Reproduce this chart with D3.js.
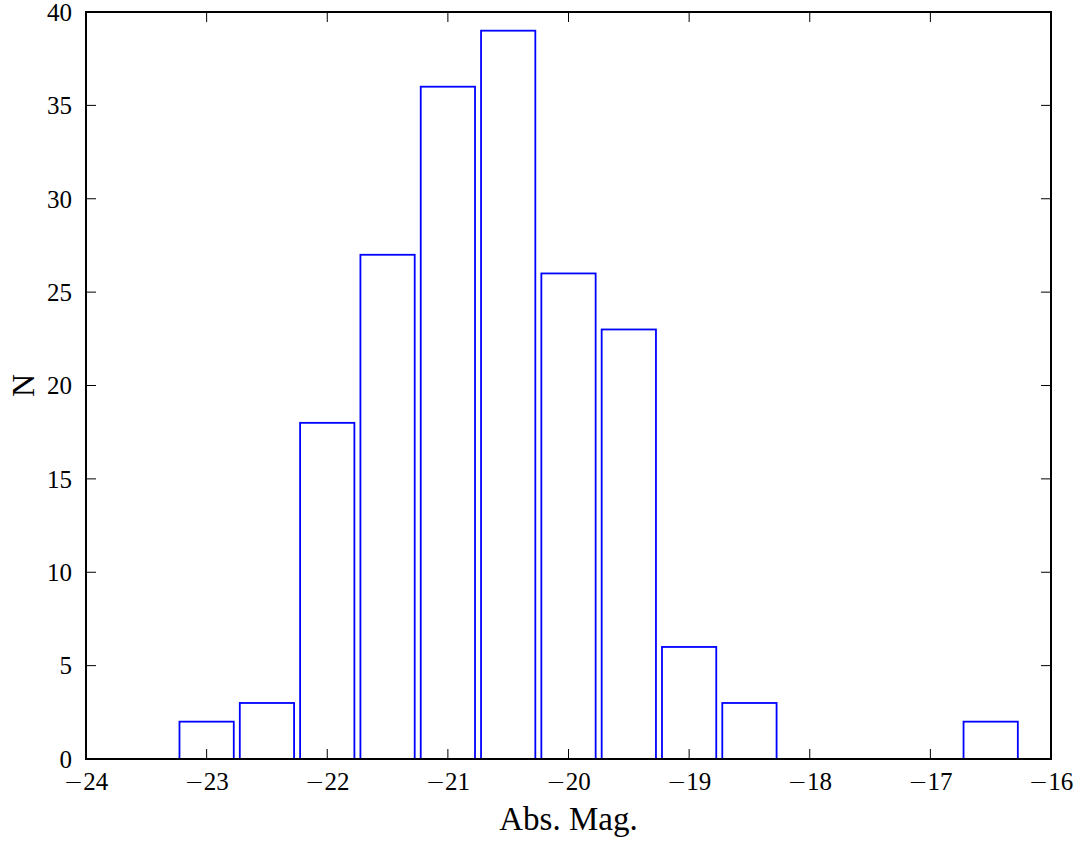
<!DOCTYPE html>
<html>
<head>
<meta charset="utf-8">
<script src="https://cdn.jsdelivr.net/npm/d3@7"></script>
<style>
  html, body { margin: 0; padding: 0; background: #fff; }
  svg { display: block; }
  text { font-family: "Liberation Serif", "DejaVu Serif", serif; fill: #000; }
</style>
</head>
<body>
<svg id="chart" width="1080" height="844"></svg>
<script>
// Data: histogram bin centers (Abs. Mag.) and counts
const binCenters = [-23.5, -23, -22.5, -22, -21.5, -21, -20.5, -20, -19.5, -19, -18.5, -18, -17.5, -17, -16.5];
const counts     = [0, 2, 3, 18, 27, 36, 39, 26, 23, 6, 3, 0, 0, 0, 2];
const binWidth = 0.5;
const barFraction = 0.9;
const xTicks = [-24, -23, -22, -21, -20, -19, -18, -17, -16];
const yTicks = [0, 5, 10, 15, 20, 25, 30, 35, 40];
const xLabel = "Abs. Mag.";
const yLabel = "N";

(function () {
const svg = d3.select("#chart");
const mL = 86, mR = 1051, mT = 12, mB = 759;

const x = d3.scaleLinear().domain([-24, -16]).range([mL, mR]);
const y = d3.scaleLinear().domain([0, 40]).range([mB, mT]);

// bars
const bars = binCenters.map((c, i) => ({ c, n: counts[i] }));
svg.append("g")
  .selectAll("rect")
  .data(bars)
  .join("rect")
  .attr("x", d => x(d.c - binWidth * barFraction / 2))
  .attr("width", d => x(d.c + binWidth * barFraction / 2) - x(d.c - binWidth * barFraction / 2))
  .attr("y", d => y(d.n))
  .attr("height", d => y(0) - y(d.n))
  .attr("fill", "#fff")
  .attr("stroke", "#0000ff")
  .attr("stroke-width", 1.8);

const tickLen = 10;
const tg = svg.append("g").attr("stroke", "#000").attr("stroke-width", 1);
xTicks.forEach(t => {
  tg.append("line").attr("x1", x(t)).attr("x2", x(t)).attr("y1", mB).attr("y2", mB - tickLen);
  tg.append("line").attr("x1", x(t)).attr("x2", x(t)).attr("y1", mT).attr("y2", mT + tickLen);
});
yTicks.forEach(t => {
  tg.append("line").attr("x1", mL).attr("x2", mL + tickLen).attr("y1", y(t)).attr("y2", y(t));
  tg.append("line").attr("x1", mR).attr("x2", mR - tickLen).attr("y1", y(t)).attr("y2", y(t));
});

// frame
svg.append("rect")
  .attr("x", mL).attr("y", mT)
  .attr("width", mR - mL).attr("height", mB - mT)
  .attr("fill", "none").attr("stroke", "#000").attr("stroke-width", 2);

// tick labels (wide minus sign like TeX)
function label(sel, d) {
  if (d < 0) {
    sel.append("tspan").attr("font-family", "DejaVu Sans").attr("font-weight", 200).attr("font-size", 23).text("\u2212");
    sel.append("tspan").text(String(Math.abs(d)));
  } else {
    sel.text(String(d));
  }
}
svg.append("g").selectAll("text").data(xTicks).join("text")
  .attr("x", d => x(d)).attr("y", mB + 31)
  .attr("text-anchor", "middle")
  .attr("font-size", 25)
  .each(function (d) { label(d3.select(this), d); });

svg.append("g").selectAll("text").data(yTicks).join("text")
  .attr("x", mL - 14).attr("y", d => y(d))
  .attr("dy", "0.35em")
  .attr("text-anchor", "end")
  .attr("font-size", 25)
  .each(function (d) { label(d3.select(this), d); });

// axis labels
svg.append("text")
  .attr("x", (mL + mR) / 2).attr("y", 830)
  .attr("text-anchor", "middle")
  .attr("font-size", 33)
  .text(xLabel);

svg.append("text")
  .attr("transform", `translate(34, ${(mT + mB) / 2}) rotate(-90)`)
  .attr("text-anchor", "middle")
  .attr("font-size", 32)
  .text(yLabel);
})();
</script>
</body>
</html>
